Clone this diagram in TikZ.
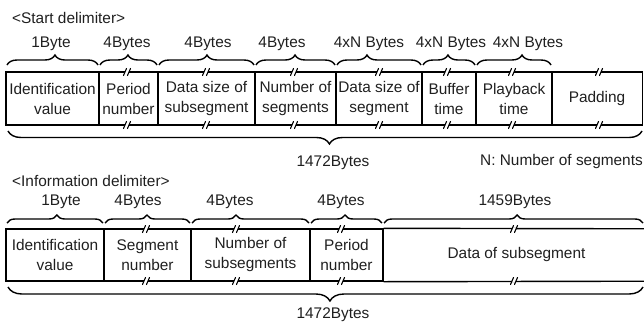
\documentclass[tikz,border=0pt]{standalone}
\usepackage{fontspec}
\setmainfont{Liberation Sans}
\usetikzlibrary{decorations.pathreplacing}
\newcommand\brkmark[2]{%
  \fill[white] (#1-3,#2-1.3) rectangle (#1+1,#2+1.3);
  \draw[slash] (#1-4.5,#2+3.5) -- (#1-1.5,#2-3.5);
  \draw[slash] (#1-0.5,#2+3.5) -- (#1+2.5,#2-3.5);
}
\begin{document}
\begin{tikzpicture}[x=1pt,y=-1pt,
  every node/.style={font=\fontsize{15.4}{20}\selectfont, text=black!88},
  cell/.style={draw, line width=1.4pt, align=center, inner sep=0pt},
  plain/.style={inner sep=0pt},
  brc/.style={line width=1.4pt, decorate},
  slash/.style={line width=1.1pt, line cap=round},
  edge/.style={line width=1.4pt}]
\useasboundingbox (0,0) rectangle (644,327);

% ---------- Start delimiter ----------
\node[plain, anchor=west] (t1) at (12,18) {<Start delimiter>};

\node[cell, minimum width=93pt, minimum height=53pt] (s1) at (52.5,98.5) {Identification\\value};
\node[cell, minimum width=59pt, minimum height=53pt] (s2) at (128.5,98.5) {Period\\number};
\node[cell, minimum width=97pt, minimum height=53pt] (s3) at (206.5,98.5) {Data size of\\subsegment};
\node[cell, minimum width=81pt, minimum height=53pt] (s4) at (295.5,98.5) {Number of\\segments};
\node[cell, minimum width=86pt, minimum height=53pt] (s5) at (379,98.5) {Data size of\\segment};
\node[cell, minimum width=54pt, minimum height=53pt] (s6) at (449,98.5) {Buffer\\time};
\node[cell, minimum width=76pt, minimum height=53pt] (s7) at (514,98.5) {Playback\\time};
\node[cell, minimum width=91pt, minimum height=53pt] (s8) at (597,98.5) {Padding};

\foreach \x in {128,207,295,380,448,513,600} {\brkmark{\x}{72}\brkmark{\x}{125}}

\draw[brc, decoration={brace, amplitude=10pt, aspect=0.527}] (7,65) -- (98,65);
\draw[brc, decoration={brace, amplitude=10pt, aspect=0.49}] (100,65) -- (157,65);
\draw[brc, decoration={brace, amplitude=10pt, aspect=0.505}] (159,65) -- (254,65);
\draw[brc, decoration={brace, amplitude=10pt, aspect=0.494}] (256,65) -- (335,65);
\draw[brc, decoration={brace, amplitude=10pt, aspect=0.357}] (337,65) -- (421,65);
\draw[brc, decoration={brace, amplitude=10pt, aspect=0.48}] (423,65) -- (475,65);
\draw[brc, decoration={brace, amplitude=10pt, aspect=0.608}] (477,65) -- (551,65);

\node (l1) at (51,44) {1Byte};
\node (l2) at (127,44) {4Bytes};
\node (l3) at (208,44) {4Bytes};
\node (l4) at (282,44) {4Bytes};
\node (l5) at (369,44) {4xN Bytes};
\node (l6) at (451,44) {4xN Bytes};
\node (l7) at (528,44) {4xN Bytes};

\draw[brc, decoration={brace, amplitude=13pt, aspect=0.493}] (642,131) -- (8,131);
\node (tot1) at (333,163) {1472Bytes};
\node[plain, anchor=east] (nn) at (643,162) {N: Number of segments};

% ---------- Information delimiter ----------
\node[plain, anchor=west] (t2) at (12,181) {<Information delimiter>};

\node[cell, minimum width=98pt, minimum height=52pt] (b1) at (55,255) {Identification\\value};
\node[cell, minimum width=87pt, minimum height=52pt] (b2) at (147.5,255) {Segment\\number};
\node[cell, minimum width=119pt, minimum height=52pt] (b3) at (250.5,255) {Number of\\subsegments};
\node[cell, minimum width=73pt, minimum height=52pt] (b4) at (346.5,255) {Period\\number};
\node[plain, minimum width=267pt, minimum height=52pt] (b5) at (516.5,255) {Data of subsegment};
\draw[edge] (b4.north east) -- (b5.north east);
\draw[edge] (b4.south east) -- (b5.south east);

\foreach \x in {147,237,342,515} {\brkmark{\x}{229}\brkmark{\x}{281}}

\draw[brc, decoration={brace, amplitude=8pt, aspect=0.52}] (7,223) -- (103,223);
\draw[brc, decoration={brace, amplitude=8pt, aspect=0.494}] (105,223) -- (190,223);
\draw[brc, decoration={brace, amplitude=8pt, aspect=0.376}] (192,223) -- (309,223);
\draw[brc, decoration={brace, amplitude=8pt, aspect=0.479}] (311,223) -- (382,223);
\draw[brc, decoration={brace, amplitude=8pt, aspect=0.514}] (384,223) -- (643,223);

\node (m1) at (61,202) {1Byte};
\node (m2) at (138,202) {4Bytes};
\node (m3) at (230,202) {4Bytes};
\node (m4) at (341,202) {4Bytes};
\node (m5) at (515,202) {1459Bytes};

\draw[brc, decoration={brace, amplitude=14pt, aspect=0.493}] (643,287) -- (8,287);
\node (tot2) at (333,315) {1472Bytes};
\end{tikzpicture}
\end{document}
